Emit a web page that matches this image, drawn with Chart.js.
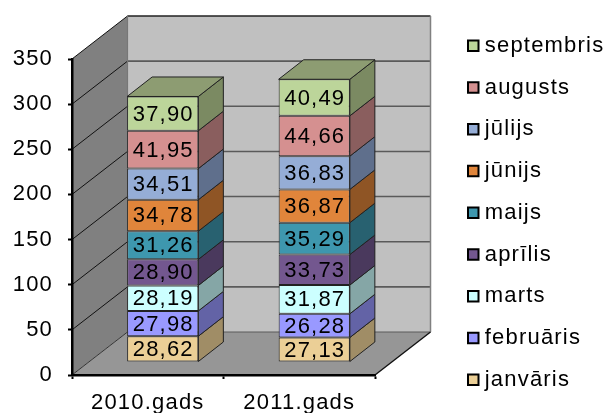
<!DOCTYPE html>
<html><head><meta charset="utf-8">
<style>html,body{margin:0;padding:0;background:#fff}canvas{display:block}</style>
<script src="https://cdn.jsdelivr.net/npm/chart.js@4/dist/chart.umd.min.js"></script>
</head><body><canvas id="c" width="603" height="413"></canvas>
<script>
const categories = ['2010.gads', '2011.gads'];
const months = ['janvāris','februāris','marts','aprīlis','maijs','jūnijs','jūlijs','augusts','septembris'];
const values2010 = [28.62, 27.98, 28.19, 28.90, 31.26, 34.78, 34.51, 41.95, 37.90];
const values2011 = [27.13, 26.28, 31.87, 33.73, 35.29, 36.87, 36.83, 44.66, 40.49];
const frontColors = ['#EBCF96','#9999FF','#CCFFFF','#73578F','#3E97AE','#E0853B','#95ADD6','#D59090','#BCD59A'];
const sideColors  = ['#A08D66','#6363A6','#85A6A6','#4A395D','#286170','#8F5525','#5F6F8C','#8A5E5E','#7B8A62'];
const topColor = '#8D9C72';
const yTicks = [0,50,100,150,200,250,300,350];

const FONT = {family:"'Liberation Sans'", size:22};
const WALL_X = 55.5, WALL_Y = 43;      // depth of the box
const BAR_X = 15, BAR_Y = 13;          // bars stand this far behind the front plane
const SIDE_X = 25, SIDE_Y = 19.5;      // depth of a bar

function poly(ctx, pts, fill, stroke, lw){
  ctx.beginPath();
  pts.forEach((p,i)=> i?ctx.lineTo(p[0],p[1]):ctx.moveTo(p[0],p[1]));
  ctx.closePath();
  if(fill){ctx.fillStyle=fill;ctx.fill();}
  if(stroke){ctx.strokeStyle=stroke;ctx.lineWidth=lw||1;ctx.stroke();}
}
function line(ctx,x1,y1,x2,y2,c,lw){
  ctx.beginPath();ctx.moveTo(x1,y1);ctx.lineTo(x2,y2);ctx.strokeStyle=c;ctx.lineWidth=lw;ctx.stroke();
}

const box3d = {
  id:'box3d',
  beforeUpdate(chart){ chart.ctx.letterSpacing='1.2px'; },
  beforeLayout(chart){
    const lg=chart.legend;
    if(!lg._wrapped){
      const f=lg.fit;
      lg.fit=function(){f.call(this); this.width=228;};
      lg._wrapped=true;
    }
  },
  afterLayout(chart){ chart.legend.left=453; chart.legend.top=15; },
  beforeDraw(chart){
    const ctx=chart.ctx, a=chart.chartArea, ys=chart.scales.y;
    const L=a.left,R=a.right,B=ys.getPixelForValue(0),T=ys.getPixelForValue(350);
    ctx.save();
    poly(ctx,[[L+WALL_X,T-WALL_Y],[R+WALL_X,T-WALL_Y],[R+WALL_X,B-WALL_Y],[L+WALL_X,B-WALL_Y]],'#C0C0C0');
    poly(ctx,[[L,T],[L+WALL_X,T-WALL_Y],[L+WALL_X,B-WALL_Y],[L,B]],'#808080');
    poly(ctx,[[L,B],[L+WALL_X,B-WALL_Y],[R+WALL_X,B-WALL_Y],[R,B]],'#969696');
    yTicks.forEach(v=>{
      const y=ys.getPixelForValue(v);
      if(v>0) line(ctx,L+WALL_X,y-WALL_Y,R+WALL_X,y-WALL_Y,v===350?'#222':'#5a5a5a',1.6);
      else line(ctx,L+WALL_X,y-WALL_Y,R+WALL_X,y-WALL_Y,'#5a5a5a',1.2);
      line(ctx,L,y,L+WALL_X,y-WALL_Y,v===0?'#333':'#111',1);
    });
    line(ctx,L+WALL_X,T-WALL_Y,L+WALL_X,B-WALL_Y,'#777',1.2);
    line(ctx,R+WALL_X,T-WALL_Y,R+WALL_X,B-WALL_Y,'#808080',1.5);
    line(ctx,R,B,R+WALL_X,B-WALL_Y,'#111',1.4);
    ctx.restore();
  },
  beforeDatasetsDraw(chart){
    const ctx=chart.ctx, n=chart.data.datasets.length;
    ctx.save();
    chart.data.datasets.forEach((ds,i)=>{
      chart.getDatasetMeta(i).data.forEach(el=>{
        const r=el.x+el.width/2+BAR_X, l=el.x-el.width/2+BAR_X, t=el.y-BAR_Y, b=el.base-BAR_Y;
        poly(ctx,[[r,t],[r+SIDE_X,t-SIDE_Y],[r+SIDE_X,b-SIDE_Y],[r,b]],sideColors[i],'#222',1);
        if(i===n-1) poly(ctx,[[l,t],[l+SIDE_X,t-SIDE_Y],[r+SIDE_X,t-SIDE_Y],[r,t]],topColor,'#222',1);
      });
    });
    ctx.restore();
    ctx.save();
    ctx.translate(BAR_X,-BAR_Y);
  },
  afterDatasetsDraw(chart){
    const ctx=chart.ctx;
    ctx.restore();
    ctx.save();
    ctx.font="22px 'Liberation Sans'";
    ctx.fillStyle='#000';
    ctx.textAlign='center';
    ctx.textBaseline='middle';
    chart.data.datasets.forEach((ds,i)=>{
      chart.getDatasetMeta(i).data.forEach((el,j)=>{
        const txt=ds.data[j].toFixed(2).replace('.',',');
        ctx.fillText(txt,el.x+BAR_X+0.5,(el.y+el.base)/2-BAR_Y+1);
      });
    });
    ctx.restore();
  }
};

new Chart(document.getElementById('c'),{
  type:'bar',
  data:{
    labels:categories,
    datasets:months.map((m,i)=>({
      label:m,
      data:[values2010[i],values2011[i]],
      backgroundColor:frontColors[i],
      borderColor:'#222',
      borderWidth:1,
      borderSkipped:false,
      barPercentage:1,
      categoryPercentage:0.47,
      clip:false
    }))
  },
  options:{
    responsive:false,
    animation:false,
    layout:{autoPadding:false,padding:{top:59,left:0,right:0,bottom:0}},
    scales:{
      x:{
        stacked:true,
        grid:{display:true,offset:true,drawOnChartArea:false,drawTicks:true,tickLength:4,tickColor:'#000',tickWidth:2},
        border:{color:'#000',width:2.5},
        ticks:{color:'#000',font:FONT,padding:11,maxRotation:0},
        afterFit(s){s.height=38;}
      },
      y:{
        stacked:true,min:0,max:350,
        afterBuildTicks(s){s.ticks=yTicks.map(v=>({value:v}));},
        grid:{display:true,drawOnChartArea:false,drawTicks:true,tickLength:4,tickColor:'#000',tickWidth:2},
        border:{color:'#000',width:2.5},
        ticks:{color:'#000',font:FONT,padding:15},
        afterFit(s){s.width=72;}
      }
    },
    plugins:{
      legend:{
        position:'right',
        align:'start',
        reverse:true,
        labels:{
          color:'#000',
          font:{family:"'Liberation Sans'",size:22},
          padding:19.75,
          usePointStyle:true,
          pointStyle:'rect',
          boxWidth:1,
          boxHeight:10.5,
          generateLabels(chart){
            return Chart.defaults.plugins.legend.labels.generateLabels(chart).map(it=>({...it,lineWidth:2,strokeStyle:'#000',pointStyle:'rect'}));
          }
        }
      },
      tooltip:{enabled:false}
    }
  },
  plugins:[box3d]
});
</script></body></html>
